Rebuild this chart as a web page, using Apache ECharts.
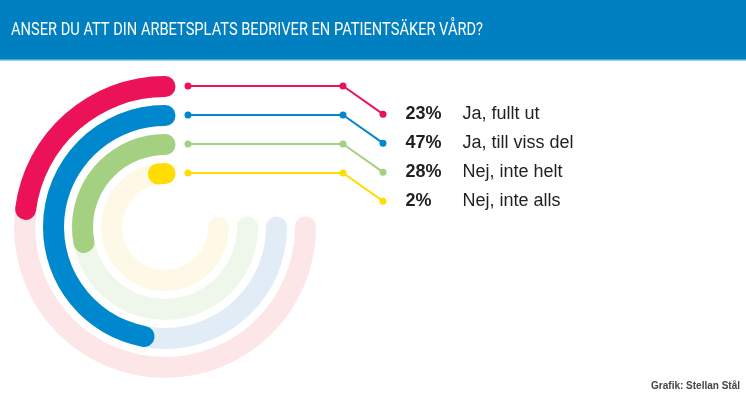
<!DOCTYPE html>
<html>
  <head>
    <meta charset="utf-8" />
    <title>Patientsäker vård</title>
    <script src="https://cdn.jsdelivr.net/npm/echarts@6/dist/echarts.min.js"></script>
    <style>
      body { margin: 0; background: #fff; }
    </style>
  </head>
  <body>
    <div id="main" style="width: 746px; height: 398px"></div>
  </body>

  <script>
    // svar, från yttersta ringen och inåt
    var answers = ["Ja, fullt ut", "Ja, till viss del", "Nej, inte helt", "Nej, inte alls"];
    var percents = [23, 47, 28, 2];
    var trackMax = 75; // bakgrundsringen går 270 grader
    var colors = ["#ec1258", "#0088ce", "#a3d181", "#ffdd00"];
    var lightColors = ["#fde6e7", "#e1ecf7", "#eff6ea", "#fdf9e6"];
    var title = "ANSER DU ATT DIN ARBETSPLATS BEDRIVER EN PATIENTSÄKER VÅRD?";

    var myChart = echarts.init(document.getElementById("main"));

    // polär axel går inifrån och ut, så vänd ordningen
    var ringCats = answers.slice().reverse();
    var ringVals = percents.slice().reverse();
    var ringCols = colors.slice().reverse();
    var ringLight = lightColors.slice().reverse();

    // titeln är smal, skala den till bredden i förlagan
    var ctx = document.createElement("canvas").getContext("2d");
    ctx.font = "18px Roboto";
    var titleScale = 472 / ctx.measureText(title).width;

    var leaderSeries = answers.map(function (name, i) {
      return {
        name: name,
        type: "line",
        xAxisIndex: 0,
        yAxisIndex: 0,
        symbol: "circle",
        symbolSize: 7,
        showSymbol: true,
        silent: true,
        lineStyle: { color: colors[i], width: 2 },
        itemStyle: { color: colors[i] },
        data: [
          [0, i],
          [155, i],
          {
            value: [195, i + 0.97],
            label: {
              show: true,
              position: "right",
              distance: 19,
              formatter: "{p|" + percents[i] + "%}{t|" + name + "}",
              rich: {
                p: {
                  width: 57,
                  fontFamily: "Liberation Sans",
                  fontWeight: "bold",
                  fontSize: 18,
                  color: "#231f20",
                },
                t: {
                  fontFamily: "Liberation Sans",
                  fontSize: 18,
                  color: "#231f20",
                },
              },
            },
          },
        ],
      };
    });

    option = {
      backgroundColor: "#fff",
      animation: false,
      graphic: [
        {
          type: "rect",
          shape: { x: 0, y: 0, width: 746, height: 59 },
          style: { fill: "#0180c1" },
        },
        {
          type: "rect",
          shape: { x: 0, y: 59, width: 746, height: 1.5 },
          style: { fill: "#4aa3d8" },
        },
        {
          type: "text",
          x: 11,
          y: 30,
          scaleX: titleScale,
          style: {
            text: title,
            fill: "#fff",
            font: "18px Roboto",
            textVerticalAlign: "middle",
          },
        },
        {
          type: "text",
          right: 6,
          top: 381,
          style: {
            text: "Grafik: Stellan Stål",
            fill: "#444",
            font: "bold 10px 'Liberation Sans'",
          },
        },
      ],
      polar: {
        center: [165, 227],
        radius: [39, 155],
      },
      angleAxis: {
        type: "value",
        min: 0,
        max: 100,
        startAngle: 90,
        clockwise: false,
        show: false,
      },
      radiusAxis: {
        type: "category",
        data: ringCats,
        show: false,
      },
      grid: {
        left: 188,
        top: 86,
        width: 195,
        height: 116,
      },
      xAxis: { type: "value", min: 0, max: 195, show: false },
      yAxis: { type: "value", min: 0, max: 4, inverse: true, show: false },
      series: [
        {
          name: "track",
          type: "bar",
          coordinateSystem: "polar",
          barCategoryGap: 8,
          roundCap: true,
          silent: true,
          z: 1,
          data: ringLight.map(function (c) {
            return { value: trackMax, itemStyle: { color: c } };
          }),
        },
        {
          name: "andel",
          type: "bar",
          coordinateSystem: "polar",
          barCategoryGap: 8,
          barGap: "-100%",
          roundCap: true,
          z: 2,
          data: ringVals.map(function (v, i) {
            return { value: v, itemStyle: { color: ringCols[i] } };
          }),
        },
      ].concat(leaderSeries),
    };

    myChart.setOption(option);
  </script>
</html>
